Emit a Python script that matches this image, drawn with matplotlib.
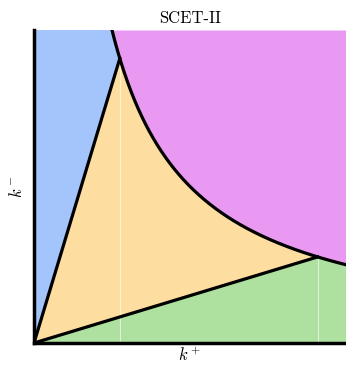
import numpy as np
import matplotlib.pyplot as plt

# hyperbola k+ k- = c bounding the soft region, and the two collinear corners
c_hyp = 0.25
corner_a = [0.275, 0.909]   # (k+, k-) where the n-collinear line meets the hyperbola
corner_b = [0.909, 0.275]   # (k+, k-) where the nbar-collinear line meets the hyperbola

region_colors = {
    "n-collinear": "#a4c4fc",
    "soft": "#e999f2",
    "ultrasoft": "#fddea0",
    "nbar-collinear": "#aee0a0",
}

plt.rcParams['mathtext.fontset'] = 'cm'
plt.rcParams['axes.unicode_minus'] = False

fig = plt.figure(figsize=(3.46, 3.66), dpi=100)
ax = fig.add_axes([34 / 346, 23 / 366, 312 / 346, 313 / 366])

xmax, ymax = 1.0, 1.0
x = np.linspace(c_hyp / ymax, xmax, 400)
hyp = c_hyp / x

# soft: everything above the hyperbola
ax.fill_between(np.concatenate([[0], x]), np.concatenate([[ymax], hyp]), ymax,
                color=region_colors["soft"], lw=0)

# n-collinear: left of the line through corner_a, under the hyperbola
xa = np.linspace(c_hyp / ymax, corner_a[0], 50)
ax.fill(np.concatenate([[0, 0], xa, [0]]),
        np.concatenate([[0, ymax], c_hyp / xa, [0]]),
        color=region_colors["n-collinear"], lw=0)

# ultrasoft: between the two lines, under the hyperbola
xu = np.linspace(corner_a[0], corner_b[0], 200)
ax.fill(np.concatenate([[0], xu, [0]]),
        np.concatenate([[0], c_hyp / xu, [0]]),
        color=region_colors["ultrasoft"], lw=0)

# nbar-collinear: below the line through corner_b
xb = np.linspace(corner_b[0], xmax, 50)
ax.fill(np.concatenate([[0], xb, [xmax, 0]]),
        np.concatenate([[0], c_hyp / xb, [0, 0]]),
        color=region_colors["nbar-collinear"], lw=0)

# faint guides at the corners
for xv in [corner_a[0], corner_b[0]]:
    ax.axvline(xv, ymax=c_hyp / xv / ymax, color='white', lw=0.8, alpha=0.6)

# boundaries
ax.plot(x, hyp, color='black', lw=2.3)
ax.plot([0, corner_a[0]], [0, corner_a[1]], color='black', lw=2.3)
ax.plot([0, corner_b[0]], [0, corner_b[1]], color='black', lw=2.3)

ax.set_xlim(0, xmax)
ax.set_ylim(0, ymax)
ax.set_xticks([])
ax.set_yticks([])
for side in ['top', 'right']:
    ax.spines[side].set_visible(False)
for side in ['left', 'bottom']:
    ax.spines[side].set_linewidth(2.5)
    ax.spines[side].set_zorder(5)

ax.set_title('SCET-II', fontsize=12, family='cmr10', pad=5)
ax.set_xlabel(r'$k^+$', fontsize=12, labelpad=3)
ax.set_ylabel(r'$k^-$', fontsize=12, labelpad=6)

fig.savefig('out.png', dpi=100)
